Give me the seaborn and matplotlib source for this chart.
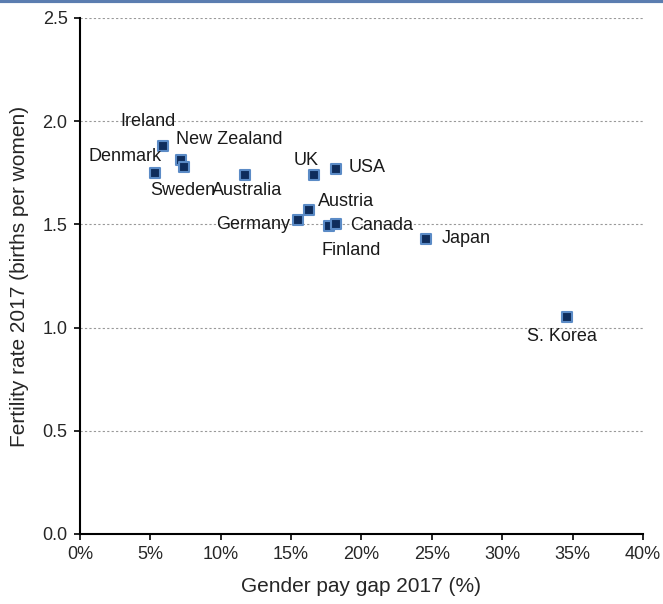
# gráfico de dispersão: diferença salarial vs fertilidade

import matplotlib.pyplot as plt
import seaborn as sns
import pandas as pd
from matplotlib.ticker import FuncFormatter

paises = ['Ireland', 'New Zealand', 'Sweden', 'Denmark', 'Australia', 'UK', 'USA',
          'Austria', 'Germany', 'Finland', 'Canada', 'Japan', 'S. Korea']
pay_gap = [5.9, 7.2, 7.4, 5.3, 11.7, 16.6, 18.2, 16.3, 15.5, 17.7, 18.2, 24.6, 34.6]
fertilidade = [1.88, 1.81, 1.78, 1.75, 1.74, 1.74, 1.77, 1.57, 1.52, 1.49, 1.50, 1.43, 1.05]

# posição dos rótulos (dados) e alinhamento
rotulo_x = [4.85, 10.6, 7.3, 3.2, 11.9, 16.05, 19.1, 16.9, 12.3, 19.3, 19.2, 25.7, 34.25]
rotulo_y = [2.0, 1.91, 1.665, 1.83, 1.665, 1.81, 1.775, 1.61, 1.50, 1.375, 1.497, 1.43, 0.955]
rotulo_ha = ['center', 'center', 'center', 'center', 'center', 'center', 'left',
             'left', 'center', 'center', 'left', 'left', 'center']

df = pd.DataFrame({'pais': paises, 'gap': pay_gap, 'fert': fertilidade})

sns.set_style('white')
plt.rcParams['font.family'] = ['Liberation Sans', 'DejaVu Sans']

fig = plt.figure(figsize=(6.63, 6.04), dpi=100)
ax = fig.add_axes([0.1207, 0.1159, 0.849, 0.8543])

sns.scatterplot(data=df, x='gap', y='fert', marker='s', s=45, color='#0f2d5c',
                edgecolor='#5b8bc6', linewidth=1.5, ax=ax, zorder=3)

for nome, lx, ly, ha in zip(paises, rotulo_x, rotulo_y, rotulo_ha):
    ax.text(lx, ly, nome, fontsize=13, ha=ha, va='center', color='#1a1a1a')

ax.set_xlim(0, 40)
ax.set_ylim(0, 2.5)
ax.set_xticks(range(0, 41, 5))
ax.set_yticks([0, 0.5, 1.0, 1.5, 2.0, 2.5])
ax.xaxis.set_major_formatter(FuncFormatter(lambda v, p: f'{v:.0f}%'))
ax.yaxis.set_major_formatter(FuncFormatter(lambda v, p: f'{v:.1f}'))
ax.tick_params(axis='both', labelsize=13, direction='out', length=4, width=1.2,
               color='black', bottom=True, left=True, pad=5)

ax.grid(axis='y', linestyle=(0, (2, 2)), color='#999999', linewidth=0.8)
ax.set_axisbelow(True)
for lado in ['top', 'right']:
    ax.spines[lado].set_visible(False)
for lado in ['left', 'bottom']:
    ax.spines[lado].set_color('black')
    ax.spines[lado].set_linewidth(1.5)

plt.xlabel('Gender pay gap 2017 (%)', fontsize=15, labelpad=10)
plt.ylabel('Fertility rate 2017 (births per women)', fontsize=15, labelpad=10)

# faixa azul no topo
fig.add_artist(plt.Line2D([0, 1], [0.998, 0.998], transform=fig.transFigure,
                          color='#5b7db0', linewidth=3))

plt.savefig('out.png', dpi=100)
